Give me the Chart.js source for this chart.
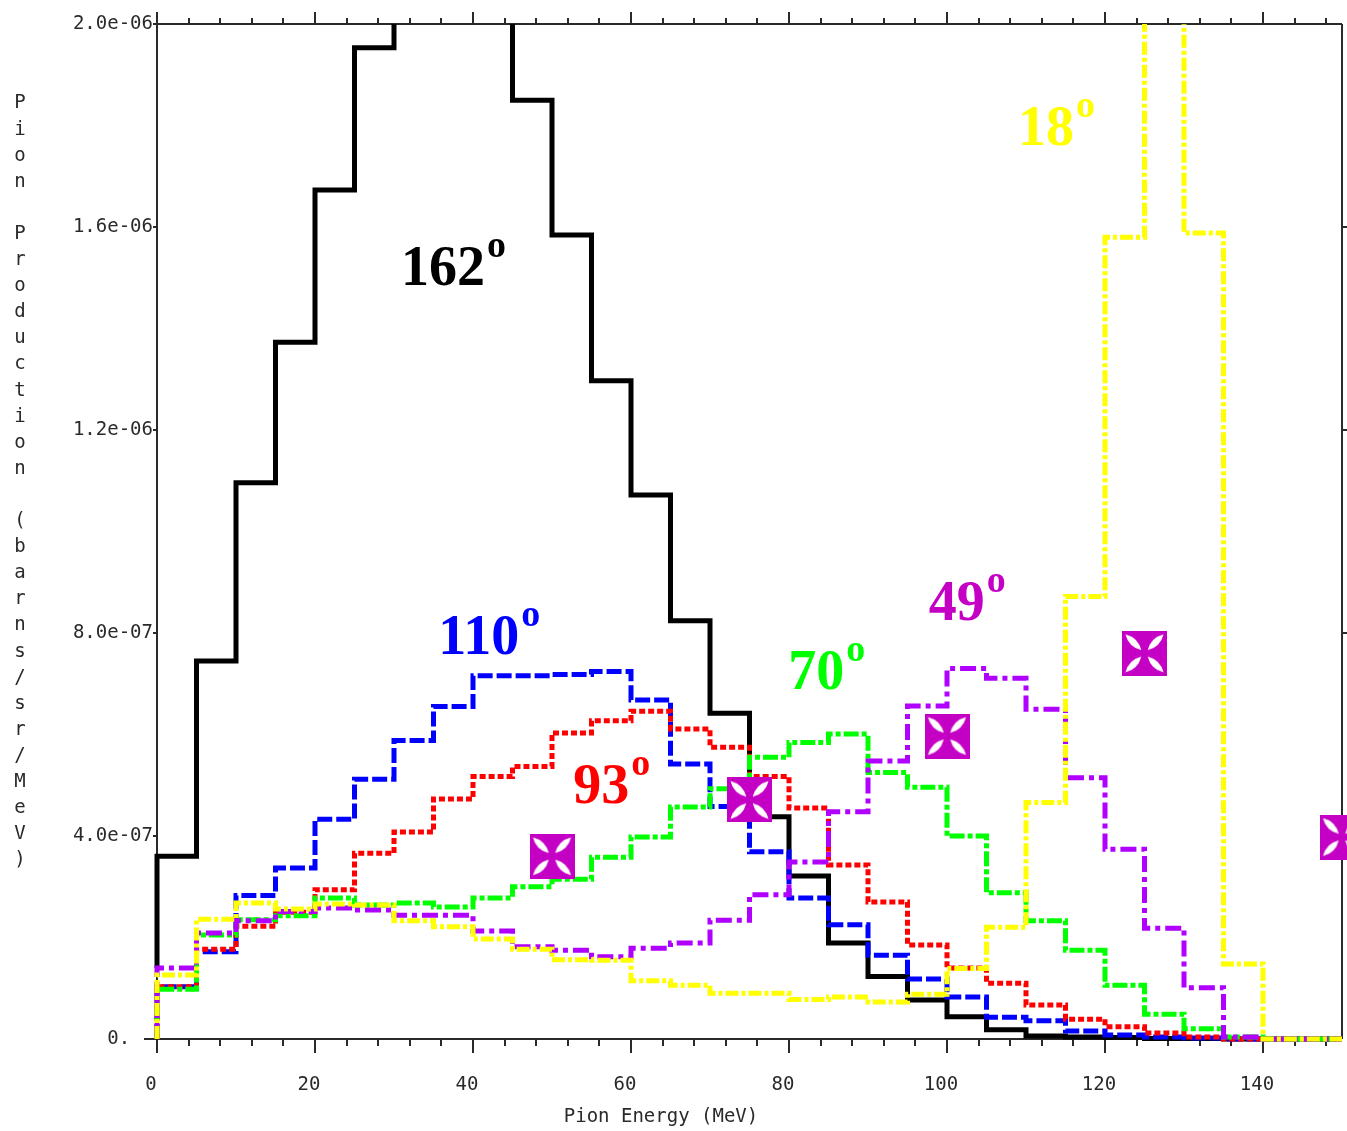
<!DOCTYPE html>
<html>
<head>
<meta charset="utf-8">
<script src="https://cdn.jsdelivr.net/npm/chart.js@4.4.1/dist/chart.umd.min.js"></script>
<style>
html,body{margin:0;padding:0;background:#ffffff;}
#wrap{width:1347px;height:1131px;position:relative;}
canvas{display:block;}
</style>
</head>
<body>
<div id="wrap"><canvas id="c" width="1347" height="1131"></canvas></div>
<script>
// ---------- DATA (pion production, units of 1e-6 barns/sr/MeV) ----------
const binEdges = [0,5,10,15,20,25,30,35,40,45,50,55,60,65,70,75,80,85,90,95,100,105,110,115,120,125,130,135,140,145,150];

const black162 = [0.360,0.745,1.096,1.373,1.673,1.953,2.100,2.150,2.080,1.850,1.584,1.297,1.072,0.824,0.642,0.438,0.321,0.189,0.123,0.077,0.044,0.018,0.006,0.004,0.003,0.001,0.001,0,0,0];
const blue110  = [0.103,0.172,0.283,0.337,0.433,0.512,0.588,0.655,0.716,0.716,0.718,0.724,0.668,0.542,0.458,0.369,0.278,0.225,0.165,0.118,0.083,0.043,0.036,0.016,0.008,0.004,0.002,0,0,0];
const red93    = [0.103,0.177,0.222,0.250,0.294,0.366,0.408,0.473,0.517,0.537,0.603,0.627,0.646,0.611,0.575,0.517,0.455,0.343,0.270,0.185,0.140,0.110,0.067,0.039,0.024,0.012,0.004,0,0,0];
const green70  = [0.098,0.205,0.235,0.243,0.278,0.264,0.268,0.260,0.278,0.300,0.315,0.358,0.398,0.457,0.493,0.555,0.584,0.601,0.525,0.496,0.400,0.288,0.233,0.175,0.106,0.049,0.020,0.004,0,0];
const purple49 = [0.140,0.209,0.233,0.251,0.258,0.254,0.244,0.244,0.213,0.182,0.175,0.162,0.179,0.189,0.234,0.284,0.349,0.448,0.548,0.656,0.730,0.711,0.650,0.515,0.374,0.218,0.101,0.004,0,0];
const yellow18 = [0.126,0.236,0.268,0.256,0.266,0.264,0.233,0.221,0.197,0.177,0.156,0.155,0.115,0.106,0.090,0.090,0.078,0.083,0.073,0.088,0.139,0.220,0.466,0.872,1.580,2.600,1.588,0.148,0,0];

// value at which each curve starts at E = 0
const startValues = {black162: 0.14, blue110: 0, red93: 0, green70: 0, purple49: 0, yellow18: 0};

// measured points (cross markers)
const markerEnergy = [50, 75, 100, 125, 150];
const markerValue  = [0.360, 0.471, 0.597, 0.760, 0.398];

// angle labels
const angleLabels = ['162','110','93','70','49','18'];
const angleLabelE = [30.9, 35.6, 52.7, 79.9, 97.7, 109.0];
const angleLabelV = [1.486, 0.759, 0.465, 0.690, 0.826, 1.762];

// axes
const xTickValues = [0,20,40,60,80,100,120,140];
const xTickLabels = ['0','20','40','60','80','100','120','140'];
const xMinorTickValues = [0,4,8,12,16,20,24,28,32,36,40,44,48,52,56,60,64,68,72,76,80,84,88,92,96,100,104,108,112,116,120,124,128,132,136,140,144,148];
const yTickValues = [0,0.4,0.8,1.2,1.6,2.0];
const yTickLabels = ['0.  ','4.0e-07','8.0e-07','1.2e-06','1.6e-06','2.0e-06'];
const xTitle = 'Pion Energy (MeV)';
const yTitle = 'Pion Production (barns/sr/MeV)';

// ---------- STYLES ----------
const COL = {black:'#000000', blue:'#0000ff', red:'#ff0000', green:'#00ff00', purple:'#b000ff', yellow:'#ffff00', marker:'#c400c4'};
const angleColors = [COL.black, COL.blue, COL.red, COL.green, COL.marker, COL.yellow];
const AXIS_COLOR = '#2a2a2a';
const MONO = '"DejaVu Sans Mono", "Liberation Mono", monospace';

function histPoints(start, vals) {
  const pts = [{x: binEdges[0], y: start}];
  vals.forEach((v, i) => pts.push({x: binEdges[i], y: v}));
  pts.push({x: binEdges[binEdges.length - 1], y: vals[vals.length - 1]});
  return pts;
}

function makeCross(size, color) {
  const c = document.createElement('canvas');
  c.width = size; c.height = size;
  const g = c.getContext('2d');
  g.fillStyle = color;
  g.fillRect(0, 0, size, size);
  g.fillStyle = '#ffffff';
  const m = size / 2;
  for (let k = 0; k < 4; k++) {
    g.save();
    g.translate(m, m);
    g.rotate(Math.PI / 4 + k * Math.PI / 2);
    const r1 = size * 0.1, r2 = size * 0.6, w = size * 0.15;
    g.beginPath();
    g.moveTo(r1, 0);
    g.quadraticCurveTo((r1 + r2) / 2, -w, r2, 0);
    g.quadraticCurveTo((r1 + r2) / 2, w, r1, 0);
    g.closePath();
    g.fill();
    g.restore();
  }
  return c;
}
const crossImg = makeCross(45, COL.marker);

const lineClip = {left: 10, right: 10, top: 0, bottom: 10};
function lineDS(label, data, color, dash, order, width) {
  return {
    type: 'line', label, data, borderColor: color, backgroundColor: color,
    borderWidth: width, borderDash: dash, borderCapStyle: 'butt', borderJoinStyle: 'miter',
    stepped: 'before', pointRadius: 0, pointHoverRadius: 0, pointHitRadius: 0,
    fill: false, tension: 0, clip: lineClip, order
  };
}

const datasets = [
  {
    type: 'scatter', label: 'data',
    data: markerEnergy.map((e, i) => ({x: e, y: markerValue[i]})),
    pointStyle: crossImg, pointRadius: 22, pointHoverRadius: 22,
    clip: false, order: 0, showLine: false
  },
  lineDS('18°',  histPoints(startValues.yellow18, yellow18), COL.yellow, [13,3,4,3], 1, 5),
  lineDS('49°',  histPoints(startValues.purple49, purple49), COL.purple, [16,5,5,5], 2, 5),
  lineDS('70°',  histPoints(startValues.green70, green70),   COL.green,  [15,3,5,3], 3, 5),
  lineDS('93°',  histPoints(startValues.red93, red93),       COL.red,    [6,3],      4, 5),
  lineDS('110°', histPoints(startValues.blue110, blue110),   COL.blue,   [15,4],     5, 5),
  lineDS('162°', histPoints(startValues.black162, black162), COL.black,  [],         6, 5)
];

const framePlugin = {
  id: 'frame',
  beforeDatasetsDraw(chart) {
    const {ctx, chartArea: a, scales: {x, y}} = chart;
    ctx.save();
    ctx.strokeStyle = AXIS_COLOR;
    ctx.lineWidth = 2;
    ctx.beginPath();
    ctx.moveTo(a.left, a.top); ctx.lineTo(a.left, a.bottom);
    ctx.moveTo(a.left - 13, a.bottom); ctx.lineTo(a.right, a.bottom);
    ctx.moveTo(a.left, a.top); ctx.lineTo(a.right, a.top);
    ctx.moveTo(a.right, a.top); ctx.lineTo(a.right, a.bottom);
    xMinorTickValues.forEach(v => {
      const px = Math.round(x.getPixelForValue(v));
      const major = xTickValues.includes(v);
      ctx.moveTo(px, a.bottom); ctx.lineTo(px, a.bottom + (major ? 14 : 7));
      ctx.moveTo(px, a.top); ctx.lineTo(px, a.top - (major ? 12 : 6));
    });
    yTickValues.forEach(v => {
      const py = Math.round(y.getPixelForValue(v));
      ctx.moveTo(a.left, py); ctx.lineTo(a.left - 4, py);
      if (v > 0 && v < 2) { ctx.moveTo(a.right, py); ctx.lineTo(a.right + 6, py); }
    });
    ctx.stroke();
    ctx.restore();
  },
  afterDraw(chart) {
    const {ctx, scales: {x, y}} = chart;
    ctx.save();
    // axis titles
    ctx.fillStyle = AXIS_COLOR;
    ctx.font = '19px ' + MONO;
    ctx.textAlign = 'center';
    ctx.textBaseline = 'middle';
    ctx.fillText(xTitle, 661, 1117);
    [...yTitle].forEach((ch, i) => { ctx.fillText(ch, 20, 103.5 + i * 26.1); });
    // angle labels
    ctx.textAlign = 'left';
    ctx.textBaseline = 'alphabetic';
    angleLabels.forEach((t, i) => {
      const px = x.getPixelForValue(angleLabelE[i]);
      const py = y.getPixelForValue(angleLabelV[i]);
      ctx.fillStyle = angleColors[i];
      ctx.font = 'bold 56px "Liberation Serif", "Times New Roman", serif';
      ctx.fillText(t, px, py);
      const w = ctx.measureText(t).width;
      ctx.font = 'bold 38px "Liberation Serif", "Times New Roman", serif';
      ctx.fillText('o', px + w + 2, py - 28);
    });
    ctx.restore();
  }
};

new Chart(document.getElementById('c'), {
  type: 'line',
  data: {datasets},
  options: {
    responsive: false,
    animation: false,
    devicePixelRatio: 1,
    layout: {autoPadding: false, padding: {top: 24, right: 5, left: 0, bottom: 0}},
    plugins: {legend: {display: false}, tooltip: {enabled: false}, title: {display: false}},
    events: [],
    scales: {
      x: {
        type: 'linear', min: 0, max: 150,
        grid: {display: false, drawTicks: false},
        border: {display: false},
        afterBuildTicks: s => { s.ticks = xTickValues.map(v => ({value: v})); },
        afterFit: s => { s.height = 92; s.paddingLeft = 0; s.paddingRight = 0; },
        ticks: {
          autoSkip: false, maxRotation: 0, minRotation: 0, padding: 35, labelOffset: -6,
          color: AXIS_COLOR, font: {family: MONO, size: 19},
          callback: (v, i) => xTickLabels[i]
        }
      },
      y: {
        type: 'linear', min: 0, max: 2.0,
        grid: {display: false, drawTicks: false},
        border: {display: false},
        afterBuildTicks: s => { s.ticks = yTickValues.map(v => ({value: v})); },
        afterFit: s => { s.width = 157; s.paddingTop = 0; s.paddingBottom = 0; },
        ticks: {
          autoSkip: false, padding: 4,
          color: AXIS_COLOR, font: {family: MONO, size: 19},
          callback: (v, i) => yTickLabels[i]
        }
      }
    }
  },
  plugins: [framePlugin]
});
</script>
</body>
</html>
